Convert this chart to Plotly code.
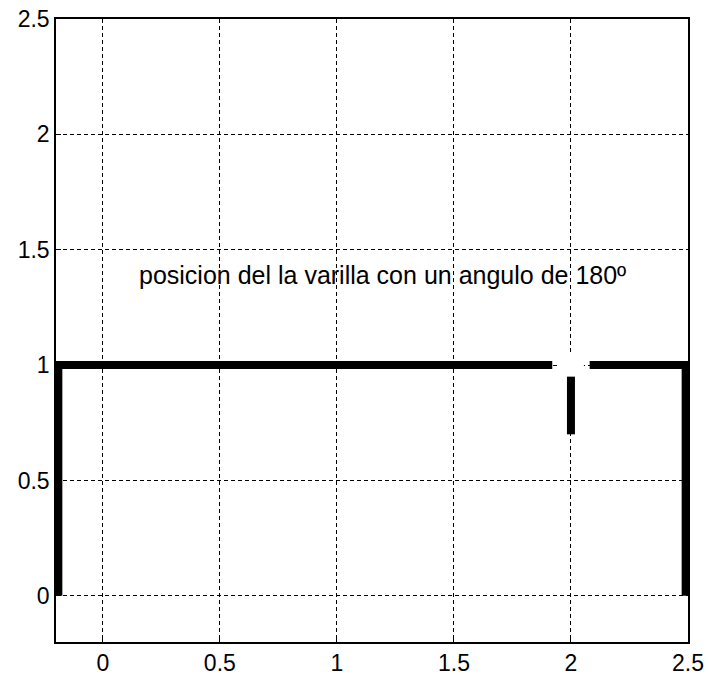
import plotly.graph_objects as go

# Data
left_x = [-0.19, -0.19, 1.92]
left_y = [0.0, 1.0, 1.0]
right_x = [2.08, 2.49, 2.49]
right_y = [1.0, 1.0, 0.0]
rod_x = [2.0, 2.0]
rod_y = [0.70, 0.95]
gap_x = [2.0]
gap_y = [1.0]

tick_vals = [0, 0.5, 1, 1.5, 2, 2.5]
tick_text = ["0", "0.5", "1", "1.5", "2", "2.5"]
label = "posicion del la varilla con un angulo de 180º"
label_x, label_y = 0.145, 1.39

font_family = "Liberation Sans, Arial, sans-serif"

fig = go.Figure()
fig.add_trace(go.Scatter(x=gap_x, y=gap_y, mode="markers",
                         marker=dict(color="white", size=26, line=dict(width=0)),
                         hoverinfo="skip"))
for xs, ys in [(left_x, left_y), (right_x, right_y), (rod_x, rod_y)]:
    fig.add_trace(go.Scatter(x=xs, y=ys, mode="lines",
                             line=dict(color="black", width=8)))

fig.add_annotation(x=label_x, y=label_y, text=label, showarrow=False,
                   xanchor="left", yanchor="middle",
                   font=dict(family=font_family, size=25, color="black"))

axis_common = dict(
    range=[-0.2, 2.5], tickvals=tick_vals, ticktext=tick_text,
    showgrid=True, gridcolor="black", gridwidth=1, griddash="4px,3px",
    showline=True, linecolor="black", linewidth=1.5, mirror=True,
    ticks="inside", ticklen=5, tickcolor="black", zeroline=False,
    automargin=False,
    tickfont=dict(family=font_family, size=23, color="black"),
)

fig.update_layout(
    width=709, height=675,
    margin=dict(l=56, r=21, t=19, b=33),
    paper_bgcolor="white", plot_bgcolor="white",
    showlegend=False,
    xaxis=axis_common, yaxis=axis_common,
)

fig.write_html("out.html")
